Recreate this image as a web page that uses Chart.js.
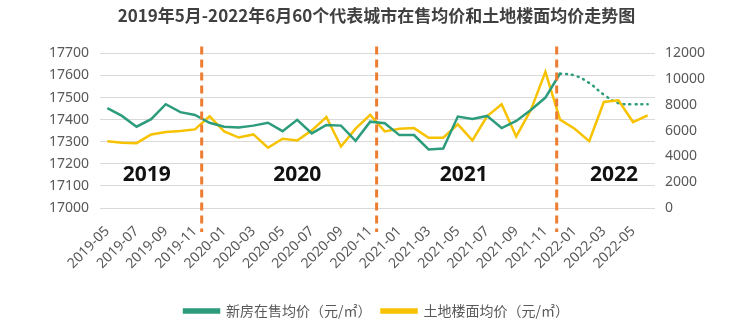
<!DOCTYPE html>
<html>
<head>
<meta charset="utf-8">
<script src="https://cdn.jsdelivr.net/npm/chart.js@4/dist/chart.umd.min.js"></script>
<style>
  body { margin: 0; background: #fff; }
  #wrap { position: relative; width: 750px; height: 333px; }
</style>
</head>
<body>
<div id="wrap"><canvas id="trendChart"></canvas></div>
<script>
// 月份
const months = [
  '2019-05','2019-06','2019-07','2019-08','2019-09','2019-10','2019-11','2019-12',
  '2020-01','2020-02','2020-03','2020-04','2020-05','2020-06','2020-07','2020-08',
  '2020-09','2020-10','2020-11','2020-12','2021-01','2021-02','2021-03','2021-04',
  '2021-05','2021-06','2021-07','2021-08','2021-09','2021-10','2021-11','2021-12',
  '2022-01','2022-02','2022-03','2022-04','2022-05','2022-06'
];

// 新房在售均价 (元/㎡) — 实线部分
const newHomePrice = [
  17452, 17417, 17368, 17402, 17470, 17434, 17421, 17386,
  17368, 17365, 17373, 17386, 17348, 17399, 17338, 17376,
  17373, 17304, 17391, 17384, 17330, 17330, 17265, 17269,
  17414, 17403, 17417, 17362, 17394, 17444, 17500, 17609
];
// 新房在售均价 — 虚线(预测)部分
const newHomeForecast = [
  null, null, null, null, null, null, null, null,
  null, null, null, null, null, null, null, null,
  null, null, null, null, null, null, null, null,
  null, null, null, null, null, null, null, 17609,
  17600, 17566, 17513, 17475, 17470, 17470
];
// 土地楼面均价 (元/㎡)
const landPrice = [
  5190, 5065, 5034, 5712, 5891, 5969, 6101, 7114,
  5945, 5470, 5712, 4675, 5377, 5244, 6023, 7060,
  4777, 6156, 7230, 5945, 6156, 6203, 5455, 5455,
  6491, 5244, 7114, 8050, 5556, 7600, 10567, 6857,
  6156, 5190, 8229, 8361, 6670, 7192
];

// 年份分隔线(类目位置)和年份标注
const dividers = [6.46, 18.44, 30.77];
const yearLabels = ['2019', '2020', '2021', '2022'];
const yearPos = [2.7, 13.0, 24.4, 34.7];
const yearLevel = 17150;

const GREEN = '#2c9c7c';
const YELLOW = '#f7c200';
const ORANGE = '#ed7d31';

// 画分隔虚线和年份文字
const yearPlugin = {
  id: 'yearMarks',
  afterDatasetsDraw(chart) {
    const { ctx, chartArea, scales } = chart;
    ctx.save();
    ctx.strokeStyle = ORANGE;
    ctx.lineWidth = 3;
    ctx.setLineDash([8, 5]);
    dividers.forEach(d => {
      const x = scales.x.getPixelForValue(d);
      ctx.beginPath();
      ctx.moveTo(x, chartArea.top - 7);
      ctx.lineTo(x, chartArea.bottom + 24);
      ctx.stroke();
    });
    ctx.setLineDash([]);
    ctx.fillStyle = '#111';
    ctx.font = 'bold 21px "Noto Sans", "DejaVu Sans", sans-serif';
    ctx.textAlign = 'center';
    ctx.textBaseline = 'middle';
    yearLabels.forEach((t, i) => {
      ctx.fillText(t, scales.x.getPixelForValue(yearPos[i]), scales.y.getPixelForValue(yearLevel));
    });
    ctx.restore();
  }
};

const tickFont = { family: '"Noto Sans", "Noto Sans CJK SC", sans-serif', size: 14 };
const plainNumber = v => String(v);

new Chart(document.getElementById('trendChart'), {
  type: 'line',
  data: {
    labels: months,
    datasets: [
      {
        label: '新房在售均价（元/㎡）',
        data: newHomePrice,
        borderColor: GREEN,
        backgroundColor: GREEN,
        borderWidth: 2.5,
        pointRadius: 0,
        tension: 0,
        yAxisID: 'y'
      },
      {
        label: '土地楼面均价（元/㎡）',
        data: landPrice,
        borderColor: YELLOW,
        backgroundColor: YELLOW,
        borderWidth: 2.5,
        pointRadius: 0,
        tension: 0,
        yAxisID: 'y1'
      },
      {
        label: 'forecast',
        data: newHomeForecast,
        borderColor: GREEN,
        borderWidth: 2.5,
        borderDash: [1, 5],
        borderCapStyle: 'round',
        pointRadius: 0,
        tension: 0.4,
        spanGaps: false,
        yAxisID: 'y'
      }
    ]
  },
  options: {
    responsive: true,
    maintainAspectRatio: false,
    animation: false,
    layout: { padding: { left: 38, right: 35, top: 3, bottom: 5 } },
    plugins: {
      title: {
        display: true,
        text: '2019年5月-2022年6月60个代表城市在售均价和土地楼面均价走势图',
        color: '#404040',
        font: { family: '"Noto Sans CJK SC", sans-serif', size: 17, weight: 'bold' },
        padding: { top: 2, bottom: 28 }
      },
      legend: {
        position: 'bottom',
        labels: {
          color: '#595959',
          font: { family: '"Noto Sans CJK SC", sans-serif', size: 14 },
          boxWidth: 35,
          boxHeight: 3,
          padding: 10,
          filter: item => item.text !== 'forecast'
        }
      },
      tooltip: { enabled: false }
    },
    scales: {
      x: {
        offset: true,
        grid: { display: false },
        border: { display: false },
        afterFit: scale => { scale.height = 86; },
        ticks: {
          autoSkip: false,
          maxRotation: 45,
          minRotation: 45,
          color: '#595959',
          font: { family: '"Noto Sans", sans-serif', size: 14 },
          padding: 7,
          callback: function(val, idx) {
            return idx % 2 === 0 ? this.getLabelForValue(val) : '';
          }
        }
      },
      y: {
        position: 'left',
        min: 17000,
        max: 17700,
        ticks: { stepSize: 100, color: '#595959', font: tickFont, padding: 11, callback: plainNumber },
        grid: { color: '#d9d9d9', lineWidth: 1, drawTicks: false },
        border: { display: false }
      },
      y1: {
        position: 'right',
        min: 0,
        max: 12000,
        ticks: { stepSize: 2000, color: '#595959', font: tickFont, padding: 10, callback: plainNumber },
        grid: { display: false, drawTicks: false },
        border: { display: false }
      }
    }
  },
  plugins: [yearPlugin]
});
</script>
</body>
</html>
